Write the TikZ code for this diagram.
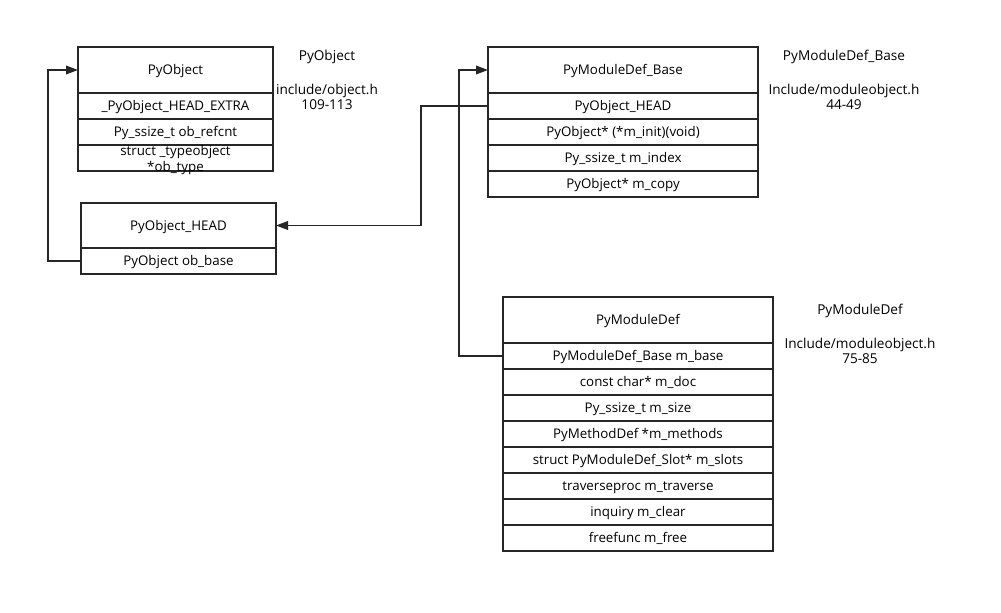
\documentclass[tikz,border=0pt]{standalone}
\usepackage{fontspec}
\setmainfont{Open Sans}
\usetikzlibrary{arrows.meta,positioning}
\tikzset{
	field/.style={draw=black!85, line width=0.9pt, fill=white, inner sep=1pt, outer sep=0pt,
		minimum height=26*0.75pt, text height=0.78em, text depth=0.07em, font=\fontsize{10}{12}\selectfont},
	head/.style={field, minimum height=46*0.75pt},
	note/.style={inner sep=0pt, align=center, font=\fontsize{10.2}{11.25}\selectfont},
	link/.style={draw=black!85, line width=1.1pt, -{Triangle[length=9pt,width=6.5pt]}}
}

\begin{document}
\begin{tikzpicture}[x=0.75pt, y=-0.75pt]
			%%%%% START %%%%%
			\useasboundingbox (0, 0) rectangle (1001, 613);
			
			% PyObject
			\node[head, minimum width=195*0.75pt] (po) at (175.5, 70) {PyObject};
			\node[field, minimum width=195*0.75pt] (po1) at (175.5, 106) {\_PyObject\_HEAD\_EXTRA};
			\node[field, minimum width=195*0.75pt] (po2) at (175.5, 132) {Py\_ssize\_t ob\_refcnt};
			\node[field, minimum width=195*0.75pt] (po3) at (175.5, 158) {\smash{\raisebox{-0.5pt}{\begin{tabular}{@{}c@{}}struct \_typeobject\\{*}ob\_type\end{tabular}}}};
			
			\node[note] (pot) at (327, 57) {PyObject};
			\node[note] (pof) at (327, 96.5) {include/object.h\\109-113};
			
			% PyObject_HEAD
			\node[head, minimum width=195*0.75pt, minimum height=45*0.75pt] (hb) at (178.5, 225.5) {PyObject\_HEAD};
			\node[field, minimum width=195*0.75pt] (hbbase) at (178.5, 261) {PyObject ob\_base};
			
			% PyModuleDef_Base
			\node[head, minimum width=270*0.75pt] (mb) at (623, 70) {PyModuleDef\_Base};
			\node[field, minimum width=270*0.75pt] (mbhead) at (623, 106) {PyObject\_HEAD};
			\foreach \txt [count=\i from 2] in {{PyObject* (*m\_init)(void)}, {Py\_ssize\_t m\_index}, {PyObject* m\_copy}}
				\node[field, minimum width=270*0.75pt] (mb\i) at (623, {80+26*\i}) {\txt};
			
			\node[note] (mbt) at (844, 57) {PyModuleDef\_Base};
			\node[note] (mbf) at (844, 96.5) {Include/moduleobject.h\\44-49};
			
			% PyModuleDef
			\node[head, minimum width=270*0.75pt] (md) at (638, 320) {PyModuleDef};
			\node[field, minimum width=270*0.75pt] (mdbase) at (638, 356) {PyModuleDef\_Base m\_base};
			\foreach \txt [count=\i from 2] in {{const char* m\_doc}, {Py\_ssize\_t m\_size}, {PyMethodDef *m\_methods},
				{struct PyModuleDef\_Slot* m\_slots}, {traverseproc m\_traverse}, {inquiry m\_clear}, {freefunc m\_free}}
				\node[field, minimum width=270*0.75pt] (md\i) at (638, {330+26*\i}) {\txt};
			
			\node[note] (mdt) at (860, 311) {PyModuleDef};
			\node[note] (mdf) at (860, 350.5) {Include/moduleobject.h\\75-85};
			
			% links
			\draw[link] (hbbase.west) -- ++(-33, 0) |- (po.west);
			\draw[link] (mbhead.west) -- ++(-67, 0) |- (hb.east);
			\draw[link] (mdbase.west) -- ++(-44, 0) |- (mb.west);
			
			%%%%% END %%%%%
\end{tikzpicture}
\end{document}
